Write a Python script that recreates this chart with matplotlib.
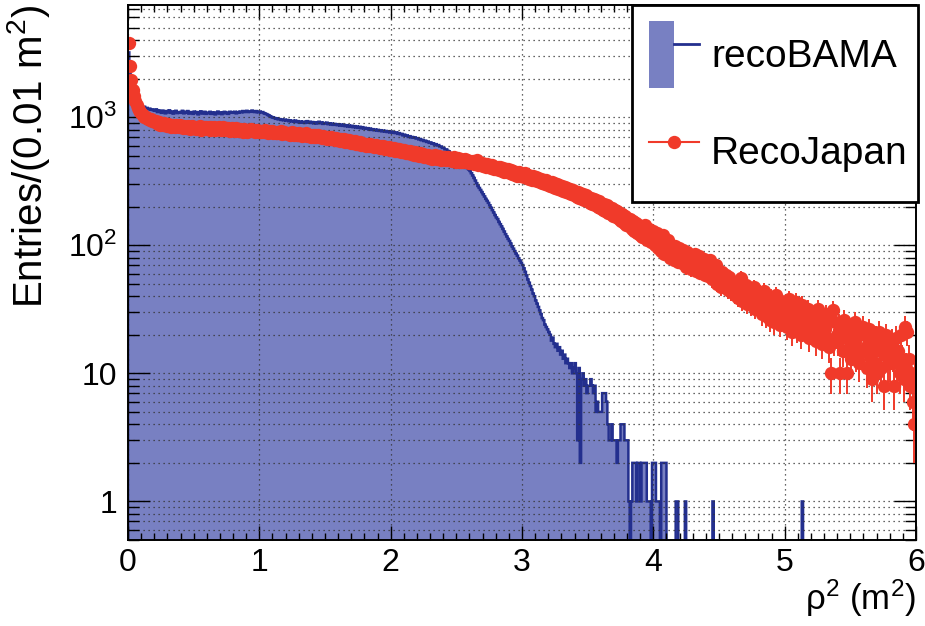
import numpy as np
import matplotlib
matplotlib.use('Agg')
import matplotlib.pyplot as plt
from matplotlib.patches import Patch
from matplotlib.lines import Line2D
from matplotlib.legend_handler import HandlerTuple
from matplotlib.ticker import LogLocator, FixedLocator, MultipleLocator, NullFormatter, FixedFormatter

plt.rcParams['font.family'] = ['Liberation Sans', 'DejaVu Sans']
plt.rcParams['mathtext.fontset'] = 'custom'
plt.rcParams['mathtext.rm'] = 'Liberation Sans'
plt.rcParams['mathtext.it'] = 'Liberation Sans:italic'
plt.rcParams['mathtext.bf'] = 'Liberation Sans:bold'

# ---------------- data (entries per 0.01 m^2 bin, rho^2 from 0 to 6) ----------------
bin_width = 0.01
x_min, x_max = 0.0, 6.0

recobama = [
    3200, 2300, 1820, 1610, 1470, 1390, 1330, 1290, 1260, 1240, 1215, 1190, 1205, 1170, 1180, 1150, 1165, 1140, 1150, 1130,
    1120, 1150, 1095, 1130, 1105, 1080, 1125, 1100, 1070, 1115, 1090, 1130, 1080, 1105, 1065, 1100, 1120, 1075, 1095, 1080,
    1095, 1120, 1070, 1100, 1080, 1115, 1065, 1095, 1090, 1060, 1105, 1075, 1095, 1050, 1085, 1110, 1065, 1080, 1100, 1060,
    1085, 1070, 1100, 1060, 1090, 1075, 1050, 1085, 1105, 1065, 1090, 1055, 1080, 1100, 1070, 1085, 1060, 1100, 1085, 1095,
    1080, 1100, 1070, 1095, 1085, 1105, 1090, 1115, 1095, 1105, 1120, 1095, 1110, 1100, 1125, 1105, 1095, 1115, 1095, 1090,
    1105, 1085, 1095, 1075, 1065, 1055, 1040, 1030, 1015, 1000, 995, 985, 970, 980, 960, 965, 950, 960, 945, 955,
    940, 950, 930, 945, 925, 935, 920, 940, 915, 930, 910, 925, 905, 920, 900, 915, 930, 905, 920, 900,
    915, 895, 910, 890, 905, 920, 895, 910, 885, 900, 890, 905, 880, 895, 875, 890, 870, 885, 880, 865,
    880, 860, 875, 855, 870, 850, 865, 845, 860, 840, 855, 835, 850, 830, 845, 825, 840, 820, 835, 815,
    825, 810, 820, 800, 815, 795, 805, 790, 800, 785, 795, 780, 790, 775, 785, 770, 780, 765, 775, 760,
    770, 755, 765, 750, 760, 740, 750, 735, 740, 720, 730, 715, 720, 700, 710, 695, 700, 690, 695, 680,
    685, 670, 675, 660, 665, 650, 655, 640, 645, 630, 635, 620, 625, 610, 615, 600, 605, 590, 590, 575,
    575, 560, 560, 545, 540, 525, 520, 505, 500, 485, 480, 465, 460, 445, 440, 425, 420, 410, 400, 390,
    380, 365, 350, 335, 320, 305, 290, 280, 270, 260, 250, 240, 230, 222, 214, 205, 196, 188, 180, 172,
    165, 160, 152, 146, 140, 134, 128, 122, 117, 112, 108, 103, 98, 94, 90, 86, 83, 79, 76, 73,
    70, 66, 62, 58, 54, 51, 48, 45, 42, 40, 37, 35, 33, 31, 29, 27, 26, 24, 23, 22,
    21, 20, 18, 19, 17, 16, 17, 15, 16, 14, 15, 13, 14, 12, 13, 12, 11, 12, 10, 11,
    12, 10, 3, 11, 2, 9, 10, 8, 9, 7, 8, 8, 9, 8, 7, 8, 5, 6, 5, 5,
    5, 7, 7, 7, 6, 4, 3, 3, 4, 3, 3, 3, 2, 3, 3, 4, 4, 4, 3, 3,
    3, 1, 0, 1, 2, 2, 2, 1, 2, 2, 1, 2, 2, 2, 2, 1, 1, 1, 0, 2,
    2, 2, 1, 1, 1, 0, 2, 2, 2, 2, 0, 0, 0, 0, 0, 0, 0, 1, 1, 0,
    0, 0, 0, 0, 1, 0, 0, 0, 0, 0, 0, 0, 0, 0, 0, 0, 0, 0, 0, 0,
    0, 0, 0, 0, 0, 1, 0, 0, 0, 0, 0, 0, 0, 0, 0, 0, 0, 0, 0, 0,
    0, 0, 0, 0, 0, 0, 0, 0, 0, 0, 0, 0, 0, 0, 0, 0, 0, 0, 0, 0,
    0, 0, 0, 0, 0, 0, 0, 0, 0, 0, 0, 0, 0, 0, 0, 0, 0, 0, 0, 0,
    0, 0, 0, 0, 0, 0, 0, 0, 0, 0, 0, 0, 0, 1, 0, 0, 0, 0, 0, 0,
    0, 0, 0, 0, 0, 0, 0, 0, 0, 0, 0, 0, 0, 0, 0, 0, 0, 0, 0, 0,
    0, 0, 0, 0, 0, 0, 0, 0, 0, 0, 0, 0, 0, 0, 0, 0, 0, 0, 0, 0,
    0, 0, 0, 0, 0, 0, 0, 0, 0, 0, 0, 0, 0, 0, 0, 0, 0, 0, 0, 0,
    0, 0, 0, 0, 0, 0, 0, 0, 0, 0, 0, 0, 0, 0, 0, 0, 0, 0, 0, 0,
]

recojapan = [
    3780, 2500, 1950, 1640, 1450, 1330, 1240, 1180, 1130, 1090, 1060, 1040, 1010, 1000, 985, 970, 950, 960, 940, 925,
    910, 935, 885, 915, 870, 905, 860, 895, 875, 850, 885, 860, 840, 875, 850, 835, 870, 845, 830, 860,
    845, 820, 855, 830, 815, 850, 825, 810, 845, 820, 840, 805, 835, 815, 845, 800, 825, 840, 810, 835,
    820, 840, 800, 830, 810, 835, 795, 820, 805, 830, 790, 815, 835, 800, 825, 795, 815, 785, 810, 825,
    805, 785, 820, 795, 780, 810, 790, 770, 805, 785, 770, 800, 780, 805, 775, 790, 765, 785, 800, 770,
    785, 765, 785, 760, 790, 765, 755, 780, 760, 785, 750, 770, 755, 745, 770, 750, 775, 740, 760, 745,
    755, 735, 755, 730, 760, 735, 725, 750, 730, 720, 745, 725, 715, 740, 720, 745, 710, 730, 715, 705,
    725, 705, 725, 700, 720, 695, 715, 690, 710, 685, 705, 680, 700, 675, 695, 670, 690, 665, 685, 660,
    675, 655, 675, 650, 670, 645, 665, 635, 660, 630, 655, 625, 650, 620, 645, 615, 635, 610, 630, 605,
    620, 600, 620, 595, 615, 590, 610, 585, 605, 580, 600, 575, 595, 570, 590, 565, 585, 560, 580, 555,
    570, 550, 570, 545, 565, 540, 560, 535, 555, 530, 550, 525, 545, 520, 540, 515, 535, 510, 530, 505,
    520, 500, 520, 495, 515, 490, 510, 485, 505, 480, 500, 475, 495, 505, 480, 470, 495, 475, 465, 490,
    475, 490, 465, 485, 460, 480, 455, 470, 485, 450, 465, 480, 450, 470, 445, 460, 475, 445, 460, 440,
    455, 435, 455, 430, 445, 460, 425, 440, 420, 440, 415, 430, 410, 430, 405, 420, 400, 420, 395, 410,
    395, 410, 385, 405, 380, 400, 375, 395, 370, 390, 365, 385, 360, 380, 355, 375, 350, 370, 345, 360,
    355, 340, 365, 335, 355, 330, 350, 325, 345, 320, 340, 315, 335, 310, 330, 305, 325, 300, 320, 295,
    310, 290, 310, 285, 305, 280, 300, 275, 295, 270, 290, 265, 285, 260, 280, 255, 275, 250, 270, 245,
    260, 240, 260, 235, 255, 230, 250, 225, 245, 220, 240, 215, 235, 210, 230, 205, 225, 200, 220, 195,
    210, 190, 210, 185, 205, 180, 200, 175, 195, 170, 190, 165, 185, 160, 180, 155, 175, 150, 170, 145,
    160, 140, 160, 135, 155, 130, 150, 125, 145, 120, 140, 115, 135, 145, 120, 110, 135, 115, 105, 130,
    115, 100, 125, 95, 115, 90, 110, 120, 85, 105, 90, 110, 80, 100, 88, 76, 98, 85, 74, 95,
    85, 72, 92, 78, 67, 88, 74, 84, 65, 80, 70, 86, 63, 76, 82, 61, 74, 66, 78, 59,
    70, 58, 67, 76, 54, 65, 56, 70, 50, 63, 55, 47, 62, 53, 49, 59, 45, 56, 49, 43,
    52, 45, 41, 51, 39, 48, 55, 37, 46, 40, 49, 35, 45, 38, 34, 43, 47, 32, 41, 36,
    34, 42, 29, 37, 44, 28, 36, 31, 26, 39, 30, 25, 35, 41, 27, 34, 24, 37, 29, 26,
    32, 23, 29, 38, 25, 21, 32, 27, 36, 22, 27, 31, 20, 34, 24, 29, 23, 32, 19, 26,
    29, 21, 26, 18, 28, 32, 20, 25, 17, 27, 22, 29, 19, 16, 26, 10, 31, 18, 25, 20,
    18, 24, 10, 21, 15, 26, 19, 10, 23, 16, 13, 22, 18, 25, 14, 20, 12, 21, 15, 23,
    15, 20, 11, 17, 22, 13, 9, 16, 12, 19, 10, 21, 15, 11, 18, 8, 14, 20, 12, 16,
    12, 18, 14, 8, 19, 12, 15, 10, 20, 13, 9, 23, 11, 21, 13, 8, 10, 6, 4, 9,
]

series_labels = ['recoBAMA', 'RecoJapan']
x_label = 'ρ$^{2}$ (m$^{2}$)'
y_label = 'Entries/(0.01 m$^{2}$)'
x_tick_values = [0, 1, 2, 3, 4, 5, 6]
y_tick_values = [1, 10, 100, 1000]
y_tick_labels = ['1', '10', r'$10^{2}$', r'$10^{3}$']
y_limits = (0.5, 7500)

# ---------------- styling ----------------
navy = '#232f8e'
fill_col = '#7880c2'
red = '#f03a2a'
grid_kw = dict(color='#333333', linestyle=(0, (1, 3)), linewidth=0.9)

bama = np.asarray(recobama, dtype=float)
japan = np.asarray(recojapan, dtype=float)
n_bins = len(bama)
edges = x_min + np.arange(n_bins + 1) * bin_width
centers = 0.5 * (edges[:-1] + edges[1:])

fig = plt.figure(figsize=(9.25, 6.26), dpi=100)
ax = fig.add_axes([128 / 925, 86 / 626, 788 / 925, 535 / 626])
ax.set_yscale('log')

ax.stairs(bama, edges, fill=True, baseline=1e-3, facecolor=fill_col,
          edgecolor='none', zorder=1)
ax.stairs(bama, edges, baseline=1e-3, color=navy, linewidth=1.8, zorder=2)

ax.errorbar(centers, japan, yerr=np.sqrt(japan), fmt='o', ms=9.6, color=red,
            ecolor=red, elinewidth=1.4, capsize=0, markeredgewidth=0, zorder=3)

ax.set_xlim(x_min, x_max)
ax.set_ylim(*y_limits)

ax.xaxis.set_major_locator(FixedLocator(x_tick_values))
ax.xaxis.set_minor_locator(MultipleLocator(0.1))
ax.yaxis.set_major_locator(FixedLocator(y_tick_values))
ax.yaxis.set_major_formatter(FixedFormatter(y_tick_labels))
ax.yaxis.set_minor_locator(LogLocator(base=10, subs=np.arange(2, 10), numticks=30))
ax.yaxis.set_minor_formatter(NullFormatter())

ax.set_axisbelow(False)
ax.grid(True, which='major', axis='x', **grid_kw)
ax.grid(True, which='both', axis='y', **grid_kw)

ax.tick_params(which='both', direction='in', top=True, right=True, width=1.0,
               labelsize=23, colors='black')
ax.tick_params(axis='x', which='major', length=10, pad=6)
ax.tick_params(axis='x', which='minor', length=5)
ax.tick_params(axis='y', which='major', length=16, pad=8)
ax.tick_params(axis='y', which='minor', length=8)
for sp in ax.spines.values():
    sp.set_linewidth(1.4)
    sp.set_zorder(5)

ax.set_xlabel(x_label, fontsize=25, loc='right')
ax.set_ylabel(y_label, fontsize=29, loc='top')
ax.xaxis.set_label_coords(1.0, -0.07)
ax.yaxis.set_label_coords(-0.097, 1.0)

bama_handle = (Patch(facecolor=fill_col, edgecolor='none'),
               Line2D([0], [0], color=navy, linewidth=2))
japan_handle = Line2D([0], [0], color=red, linewidth=1.5, marker='o', ms=9.6,
                      markeredgewidth=0)
leg = ax.legend([bama_handle, japan_handle], series_labels,
                handler_map={tuple: HandlerTuple(ndivide=None, pad=0)},
                loc='upper left', bbox_to_anchor=(0.64, 0.0, 0.363, 1.0),
                mode='expand', borderaxespad=0, fontsize=28,
                handlelength=1.3, handleheight=2.25, handletextpad=0.3,
                borderpad=0.42, labelspacing=0.8, frameon=True,
                fancybox=False, framealpha=1, edgecolor='black')
leg.get_frame().set_linewidth(2)
leg.set_zorder(10)

fig.savefig('out.png', dpi=100)
